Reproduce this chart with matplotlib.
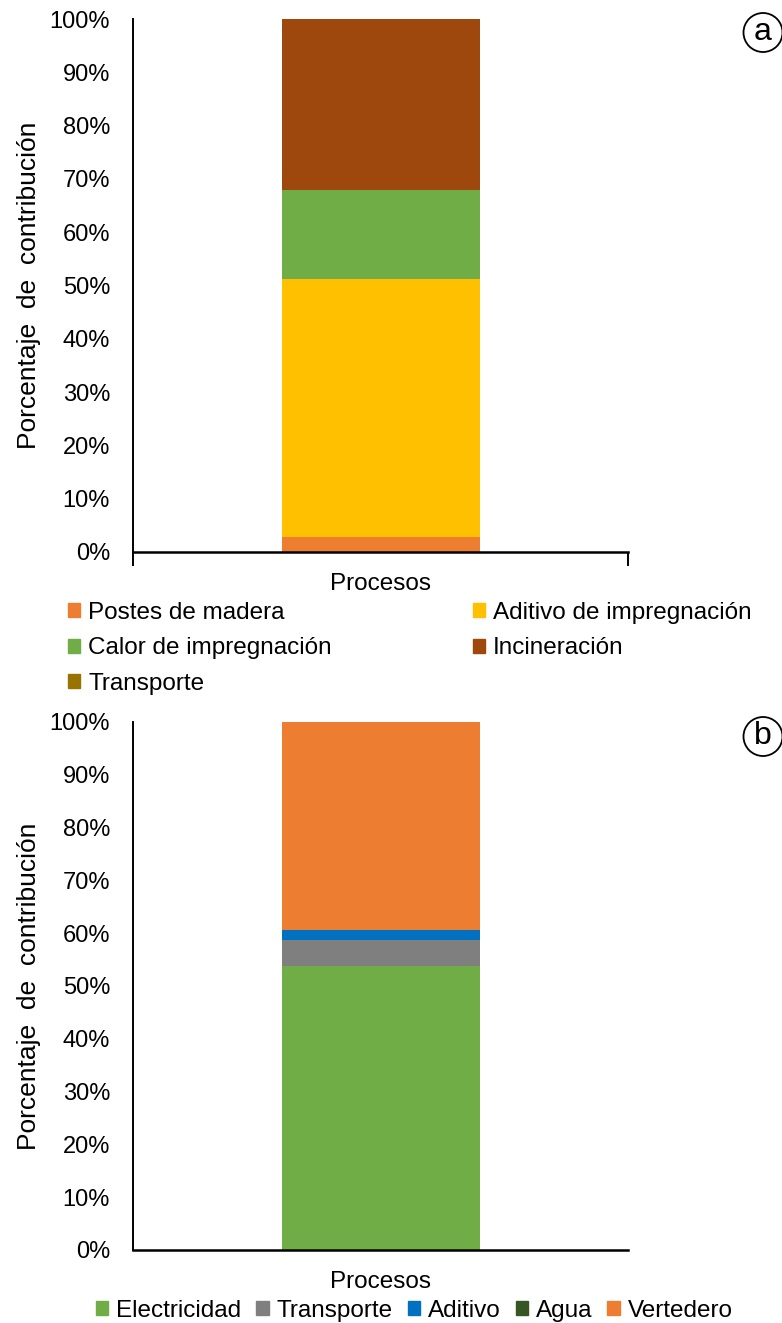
import matplotlib
matplotlib.use('Agg')
import matplotlib.pyplot as plt
from matplotlib.ticker import PercentFormatter
from matplotlib.patches import Patch, Circle

plt.rcParams['font.family'] = ['Liberation Sans', 'DejaVu Sans']

# panel (a): contribucion por proceso, en %
cats_a = ['Postes de madera', 'Aditivo de impregnación', 'Calor de impregnación',
          'Incineración', 'Transporte']
vals_a = [2.8, 48.4, 16.8, 32.0, 0.0]
cols_a = ['#ED7D31', '#FFC000', '#70AD47', '#9E480E', '#997300']

# panel (b)
cats_b = ['Electricidad', 'Transporte', 'Aditivo', 'Agua', 'Vertedero']
vals_b = [53.7, 5.0, 2.0, 0.0, 39.3]
cols_b = ['#70AD47', '#7F7F7F', '#0070C0', '#375623', '#ED7D31']

yticks = list(range(0, 101, 10))
W, H = 782, 1323
FS = 17.5
fig = plt.figure(figsize=(W / 100, H / 100), dpi=100)

def px_axes(left, top, right, bottom):
    return fig.add_axes([left / W, 1 - bottom / H, (right - left) / W, (bottom - top) / H])

def stacked(ax, vals, cols, xpad):
    base = 0
    for v, c in zip(vals, cols):
        ax.bar(0, v, bottom=base, width=0.4, color=c, linewidth=0)
        base += v
    ax.set_xlim(-0.5, 0.5)
    ax.set_ylim(0, 100)
    ax.set_yticks(yticks)
    ax.yaxis.set_major_formatter(PercentFormatter(decimals=0))
    ax.tick_params(axis='y', length=0, labelsize=17, pad=16.5)
    ax.set_xticks([])
    for s in ['top', 'right']:
        ax.spines[s].set_visible(False)
    ax.spines['left'].set_linewidth(1.4)
    ax.spines['bottom'].set_linewidth(1.8)
    ax.set_ylabel('Porcentaje  de  contribución', fontsize=19, labelpad=6)
    ax.set_xlabel('Procesos', fontsize=FS, labelpad=xpad)

ax_a = px_axes(133, 19, 628, 552)
stacked(ax_a, vals_a, cols_a, 1.5)
ax_a.set_xticks([-0.5, 0.5], minor=True)
ax_a.tick_params(axis='x', which='minor', direction='out', length=10, width=1.4)

ax_b = px_axes(133, 722, 628, 1250)
stacked(ax_b, vals_b, cols_b, 15)

# legend (a) is filled row by row in the original
order_a = [0, 2, 4, 1, 3]
handles_a = [Patch(color=cols_a[i], label=cats_a[i]) for i in order_a]
fig.legend(handles=handles_a, ncol=2, loc='upper left', bbox_to_anchor=(68 / W, 1 - 602 / H),
           frameon=False, fontsize=FS, handlelength=0.5, handleheight=0.5, borderpad=0,
           handletextpad=0.33, columnspacing=5.8, labelspacing=0.55, borderaxespad=0)

handles_b = [Patch(color=c, label=l) for c, l in zip(cols_b, cats_b)]
fig.legend(handles=handles_b, ncol=5, loc='upper left', bbox_to_anchor=(96 / W, 1 - 1300 / H),
           frameon=False, fontsize=FS, handlelength=0.5, handleheight=0.5, borderpad=0,
           handletextpad=0.33, columnspacing=0.62, borderaxespad=0)

for letter, y in [('a', 32.5), ('b', 736.5)]:
    cx, cy = 7.63, (H - y) / 100
    fig.add_artist(Circle((cx, cy), 0.195, transform=fig.dpi_scale_trans,
                          fc='white', ec='black', lw=1.3))
    fig.text(cx * 100 / W, cy * 100 / H, letter, fontsize=23, ha='center', va='center')

fig.savefig('out.png', dpi=100)
